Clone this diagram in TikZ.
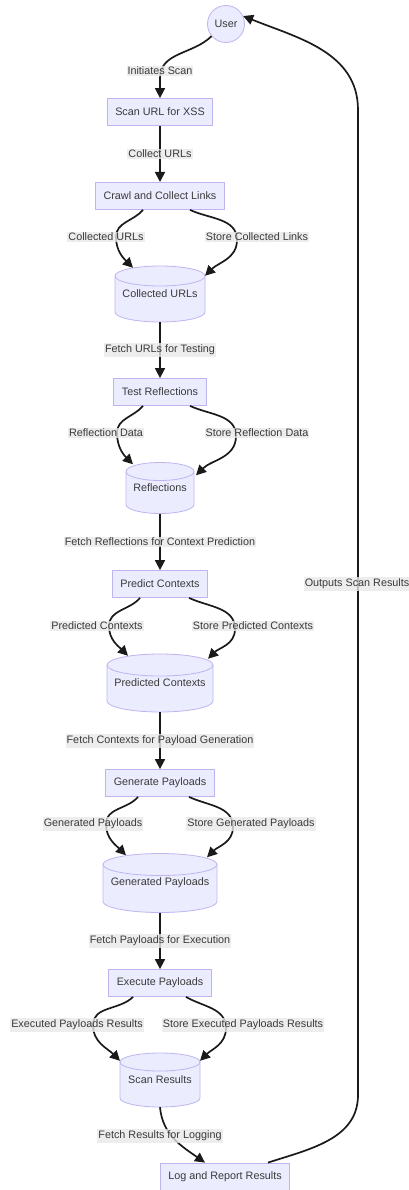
\documentclass[tikz,border=0pt]{standalone}
\usepackage{fontspec}
\setmainfont{Liberation Sans}
\usetikzlibrary{arrows.meta,calc}
\definecolor{nodefill}{HTML}{ECECFF}
\definecolor{nodeline}{HTML}{BDB4F0}
\definecolor{txt}{HTML}{3A3A3A}
\definecolor{lblbg}{HTML}{E8E8E8}
\definecolor{edgecol}{HTML}{1A1A1A}
\tikzset{
  procbox/.style={draw=nodeline,fill=nodefill,line width=0.8pt,minimum height=27pt,inner xsep=8pt,text=txt,font=\fontsize{10.8}{13}\selectfont},
  usercirc/.style={circle,draw=nodeline,fill=nodefill,line width=0.8pt,minimum size=37pt,inner sep=0pt,text=txt,font=\fontsize{10.8}{13}\selectfont},
  cylshape/.style={draw=nodeline,fill=nodefill,line width=0.8pt},
  cyltext/.style={inner sep=0pt,text=txt,font=\fontsize{10.8}{13}\selectfont},
  lbl/.style={fill=lblbg,fill opacity=0.8,text opacity=1,text=txt,inner xsep=1pt,inner ysep=1.5pt,font=\fontsize{10.8}{13}\selectfont},
  flow/.style={draw=edgecol,line width=1.7pt,-{Triangle[length=10pt,width=10pt]}},
}
% \dbcyl{name}{cx}{cy}{rx}{h}{ry}{text}   (image coordinates, y downwards)
\newcommand\dbcyl[7]{%
  \filldraw[cylshape] ({#2-#4},{-(#3)+#5/2-#6}) -- ({#2-#4},{-(#3)-#5/2+#6})
    arc[start angle=180,end angle=360,x radius=#4,y radius=#6]
    -- ({#2+#4},{-(#3)+#5/2-#6})
    arc[start angle=0,end angle=180,x radius=#4,y radius=#6] -- cycle;
  \draw[cylshape,fill=none] ({#2-#4},{-(#3)+#5/2-#6})
    arc[start angle=180,end angle=360,x radius=#4,y radius=#6];
  \node[cyltext,minimum width={2*#4},minimum height=#5] (#1) at (#2,{-(#3)}) {#7};%
}
\begin{document}
\begin{tikzpicture}[x=1pt,y=1pt]
\useasboundingbox (0,0) rectangle (409,-1190);

% nodes
\node[usercirc] (user) at (226,-24) {User};
\node[procbox] (scan) at (160,-112) {Scan URL for XSS};
\node[procbox] (crawl) at (160,-196) {Crawl and Collect Links};
\dbcyl{cu}{160}{294}{45}{56}{10}{Collected URLs}
\node[procbox] (test) at (160,-392) {Test Reflections};
\dbcyl{refl}{160}{488}{34}{51}{9}{Reflections}
\node[procbox] (pred) at (160,-584) {Predict Contexts};
\dbcyl{pc}{160}{683}{53}{58}{11}{Predicted Contexts}
\node[procbox] (gen) at (160,-783) {Generate Payloads};
\dbcyl{gp}{160}{883}{57}{59}{11}{Generated Payloads}
\node[procbox] (exec) at (160,-983) {Execute Payloads};
\dbcyl{sr}{160}{1080}{40}{54}{9}{Scan Results}
\node[procbox] (log) at (225,-1176.5) {Log and Report Results};

% connectors
\draw[flow] (user.220) to[out=-135,in=90] (160,-78) -- (scan.north);
\draw[flow] (scan.south) -- (crawl.south |- 0,-182);
\draw[flow] ($(crawl.south)+(-17,0)$) to[out=-130,in=90] (116,-237) to[out=-90,in=135] ($(cu.north)+(-27,-2)$);
\draw[flow] ($(crawl.south)+(30,0)$) to[out=-25,in=90] (237,-240) to[out=-90,in=45] ($(cu.north)+(45,-10)$);
\draw[flow] (cu.south) -- (test.north);
\draw[flow] ($(test.south)+(-17,0)$) to[out=-130,in=90] (117,-433) to[out=-90,in=135] ($(refl.north)+(-27,-2)$);
\draw[flow] ($(test.south)+(30,0)$) to[out=-25,in=90] (236,-436) to[out=-90,in=45] ($(refl.north)+(36,-13)$);
\draw[flow] (refl.south) -- (pred.north);
\draw[flow] ($(pred.south)+(-20,0)$) to[out=-130,in=90] (109,-626) to[out=-90,in=135] ($(pc.north)+(-32,-2)$);
\draw[flow] ($(pred.south)+(29,0)$) to[out=-25,in=90] (235,-629) to[out=-90,in=45] ($(pc.north)+(48,-5)$);
\draw[flow] (pc.south) -- (gen.north);
\draw[flow] ($(gen.south)+(-22,0)$) to[out=-130,in=90] (106,-824) to[out=-90,in=135] ($(gp.north)+(-34,-2)$);
\draw[flow] ($(gen.south)+(29,0)$) to[out=-25,in=90] (233,-827) to[out=-90,in=45] ($(gp.north)+(47,-4)$);
\draw[flow] (gp.south) -- (exec.north);
\draw[flow] ($(exec.south)+(-27,0)$) to[out=-135,in=90] (93,-1025) to[out=-90,in=135] ($(sr.north)+(-40,-8)$);
\draw[flow] ($(exec.south)+(26,0)$) to[out=-30,in=90] (226,-1028) to[out=-90,in=45] ($(sr.north)+(40,-8)$);
\draw[flow] (sr.south) to[out=-85,in=145] ($(log.north)+(-20,0)$);
\draw[flow] ($(log.north)+(43,0)$) to[out=18,in=-90] (358,-1095) -- (358,-110) to[out=90,in=-22] (user.25);

% edge labels
\node[lbl] (l1) at (160,-71) {Initiates Scan};
\node[lbl] (l2) at (160,-154) {Collect URLs};
\node[lbl] (l3) at (106,-237) {Collected URLs};
\node[lbl] (l4) at (257,-237) {Store Collected Links};
\node[lbl] (l5) at (160,-350) {Fetch URLs for Testing};
\node[lbl] (l6) at (106,-433) {Reflection Data};
\node[lbl] (l7) at (257,-433) {Store Reflection Data};
\node[lbl] (l8) at (160,-542) {Fetch Reflections for Context Prediction};
\node[lbl] (l9) at (97,-626) {Predicted Contexts};
\node[lbl] (l10) at (253,-626) {Store Predicted Contexts};
\node[lbl] (l11) at (160,-741) {Fetch Contexts for Payload Generation};
\node[lbl] (l12) at (93,-824) {Generated Payloads};
\node[lbl] (l13) at (251,-824) {Store Generated Payloads};
\node[lbl] (l14) at (160,-941) {Fetch Payloads for Execution};
\node[lbl] (l15) at (77,-1025) {Executed Payloads Results};
\node[lbl] (l16) at (243,-1025) {Store Executed Payloads Results};
\node[lbl] (l17) at (160,-1136) {Fetch Results for Logging};
\node[lbl] (l18) at (357,-584) {Outputs Scan Results};
\end{tikzpicture}
\end{document}
